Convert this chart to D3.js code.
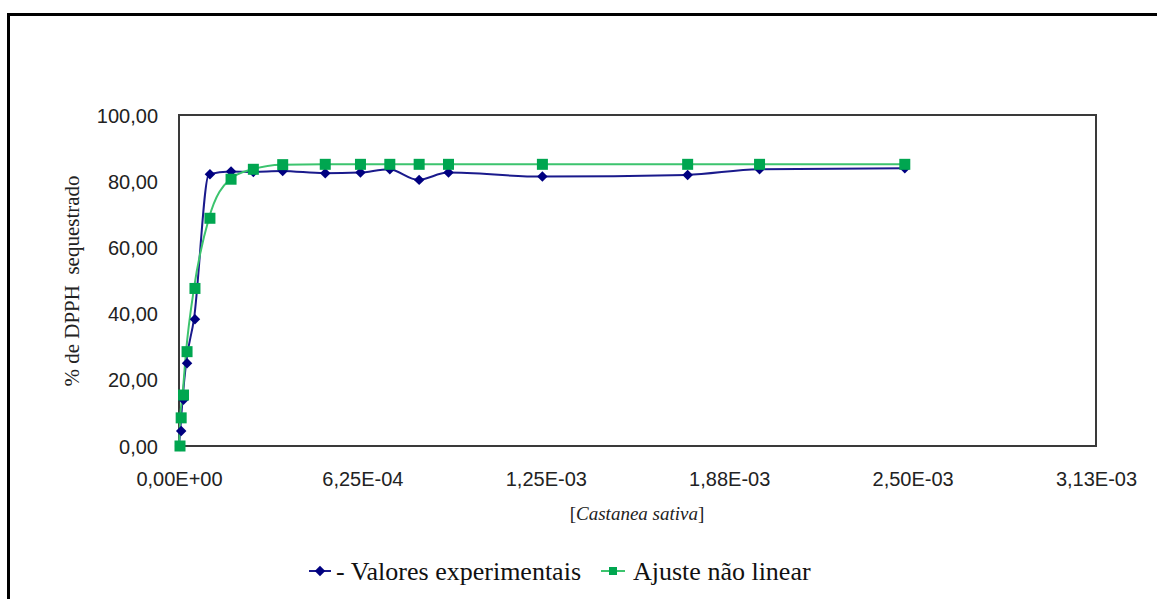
<!DOCTYPE html>
<html>
<head>
<meta charset="utf-8">
<script src="https://cdn.jsdelivr.net/npm/d3@7"></script>
<style>
  html, body { margin: 0; padding: 0; background: #fff; }
  svg { display: block; }
</style>
</head>
<body>
<svg id="chart" width="1157" height="599"></svg>
<script>
// ---- data ----
const concentrations = [0, 4e-6, 1.2e-5, 2.4e-5, 5.1e-5, 1.02e-4, 1.74e-4, 2.5e-4, 3.5e-4, 4.95e-4, 6.15e-4, 7.15e-4, 8.15e-4, 9.15e-4, 1.235e-3, 1.73e-3, 1.975e-3, 2.47e-3];
const experimental = [0, 4.5, 14, 25, 38.3, 82.1, 82.9, 82.8, 83.1, 82.4, 82.6, 83.6, 80.4, 82.6, 81.4, 81.9, 83.6, 83.9];
const fitted = [0, 8.5, 15.4, 28.5, 47.6, 68.8, 80.6, 83.6, 85.0, 85.1, 85.1, 85.1, 85.1, 85.1, 85.1, 85.1, 85.1, 85.1];
const xTicks = [0, 6.25e-4, 1.25e-3, 1.875e-3, 2.5e-3, 3.125e-3];
const xTickLabels = ["0,00E+00", "6,25E-04", "1,25E-03", "1,88E-03", "2,50E-03", "3,13E-03"];
const yTicks = [0, 20, 40, 60, 80, 100];
const yTickLabels = ["0,00", "20,00", "40,00", "60,00", "80,00", "100,00"];
const seriesNames = ["- Valores experimentais", "Ajuste não linear"];

// ---- layout ----
const svg = d3.select("#chart");
const plot = { left: 179, right: 1096, top: 115, bottom: 446 };
const x = d3.scaleLinear().domain([0, 3.125e-3]).range([plot.left, plot.right]);
const y = d3.scaleLinear().domain([0, 100]).range([plot.bottom, plot.top]);

const blueLine = "#1a1a8c", blueMark = "#000080";
const greenLine = "#3cc46e", greenMark = "#00a650";
const sans = "Liberation Sans, Arial, sans-serif";
const serif = "Liberation Serif, Times New Roman, serif";

// outer chart border (top + left visible, extends past page)
svg.append("rect").attr("x", 8.5).attr("y", 14.5).attr("width", 1200).attr("height", 700)
  .attr("fill", "none").attr("stroke", "#000").attr("stroke-width", 3);

// plot area border
svg.append("rect").attr("x", plot.left).attr("y", plot.top)
  .attr("width", plot.right - plot.left).attr("height", plot.bottom - plot.top)
  .attr("fill", "none").attr("stroke", "#3a3a3a").attr("stroke-width", 2);

// axes via d3 axis generators (no tick marks, custom labels)
const yAxis = d3.axisLeft(y).tickValues(yTicks).tickSize(0).tickPadding(0)
  .tickFormat((d, i) => yTickLabels[i]);
const gy = svg.append("g").attr("transform", `translate(${plot.left - 21},0)`).call(yAxis);
gy.select(".domain").remove();
gy.selectAll("text").attr("font-family", sans)
  .attr("font-size", 20).attr("fill", "#222").attr("dy", "0.35em");

const xAxis = d3.axisBottom(x).tickValues(xTicks).tickSize(0).tickPadding(0)
  .tickFormat((d, i) => xTickLabels[i]);
const gx = svg.append("g").attr("transform", `translate(0,${plot.bottom})`).call(xAxis);
gx.select(".domain").remove();
gx.selectAll("text").attr("font-family", sans)
  .attr("font-size", 20).attr("fill", "#222").attr("y", 33).attr("dy", "0.35em");

// axis titles
svg.append("text").attr("transform", "translate(72,281) rotate(-90)")
  .attr("text-anchor", "middle").attr("dy", "0.35em").attr("font-family", serif)
  .attr("font-size", 21).attr("fill", "#222").attr("xml:space", "preserve")
  .text("% de DPPH  sequestrado");

const xt = svg.append("text").attr("x", 637).attr("y", 513).attr("dy", "0.35em").attr("text-anchor", "middle")
  .attr("font-family", serif).attr("font-size", 19).attr("fill", "#222");
xt.append("tspan").text("[");
xt.append("tspan").attr("font-style", "italic").text("Castanea sativa");
xt.append("tspan").text("]");

// lines
const rows = concentrations.map((c, i) => ({ c, e: experimental[i], f: fitted[i] }));
const lineE = d3.line().x(d => x(d.c)).y(d => y(d.e)).curve(d3.curveMonotoneX);
const lineF = d3.line().x(d => x(d.c)).y(d => y(d.f)).curve(d3.curveMonotoneX);

svg.append("path").datum(rows).attr("d", lineE).attr("fill", "none")
  .attr("stroke", blueLine).attr("stroke-width", 2);
svg.append("path").datum(rows).attr("d", lineF).attr("fill", "none")
  .attr("stroke", greenLine).attr("stroke-width", 2);

// markers
const diamond = d3.symbol().type(d3.symbolDiamond2).size(70);
svg.append("g").selectAll("path").data(rows).join("path")
  .attr("transform", d => `translate(${x(d.c) + 1},${y(d.e)})`)
  .attr("d", diamond).attr("fill", blueMark);

const sq = 11;
svg.append("g").selectAll("rect").data(rows).join("rect")
  .attr("x", d => x(d.c) + 1 - sq / 2).attr("y", d => y(d.f) - sq / 2)
  .attr("width", sq).attr("height", sq).attr("fill", greenMark);

// legend
const leg = svg.append("g");
const ly = 571;
leg.append("line").attr("x1", 309).attr("x2", 331).attr("y1", ly).attr("y2", ly)
  .attr("stroke", blueLine).attr("stroke-width", 2);
leg.append("path").attr("transform", `translate(320,${ly})`).attr("d", diamond).attr("fill", blueMark);
leg.append("text").attr("x", 336).attr("y", ly).attr("dy", "0.35em")
  .attr("font-family", serif).attr("font-size", 26).attr("fill", "#111")
  .text(seriesNames[0]);
leg.append("line").attr("x1", 601).attr("x2", 625).attr("y1", ly).attr("y2", ly)
  .attr("stroke", greenLine).attr("stroke-width", 2);
leg.append("rect").attr("x", 609).attr("y", ly - 4).attr("width", 8).attr("height", 8).attr("fill", greenMark);
leg.append("text").attr("x", 633).attr("y", ly).attr("dy", "0.35em")
  .attr("font-family", serif).attr("font-size", 26).attr("fill", "#111")
  .text(seriesNames[1]);
</script>
</body>
</html>
